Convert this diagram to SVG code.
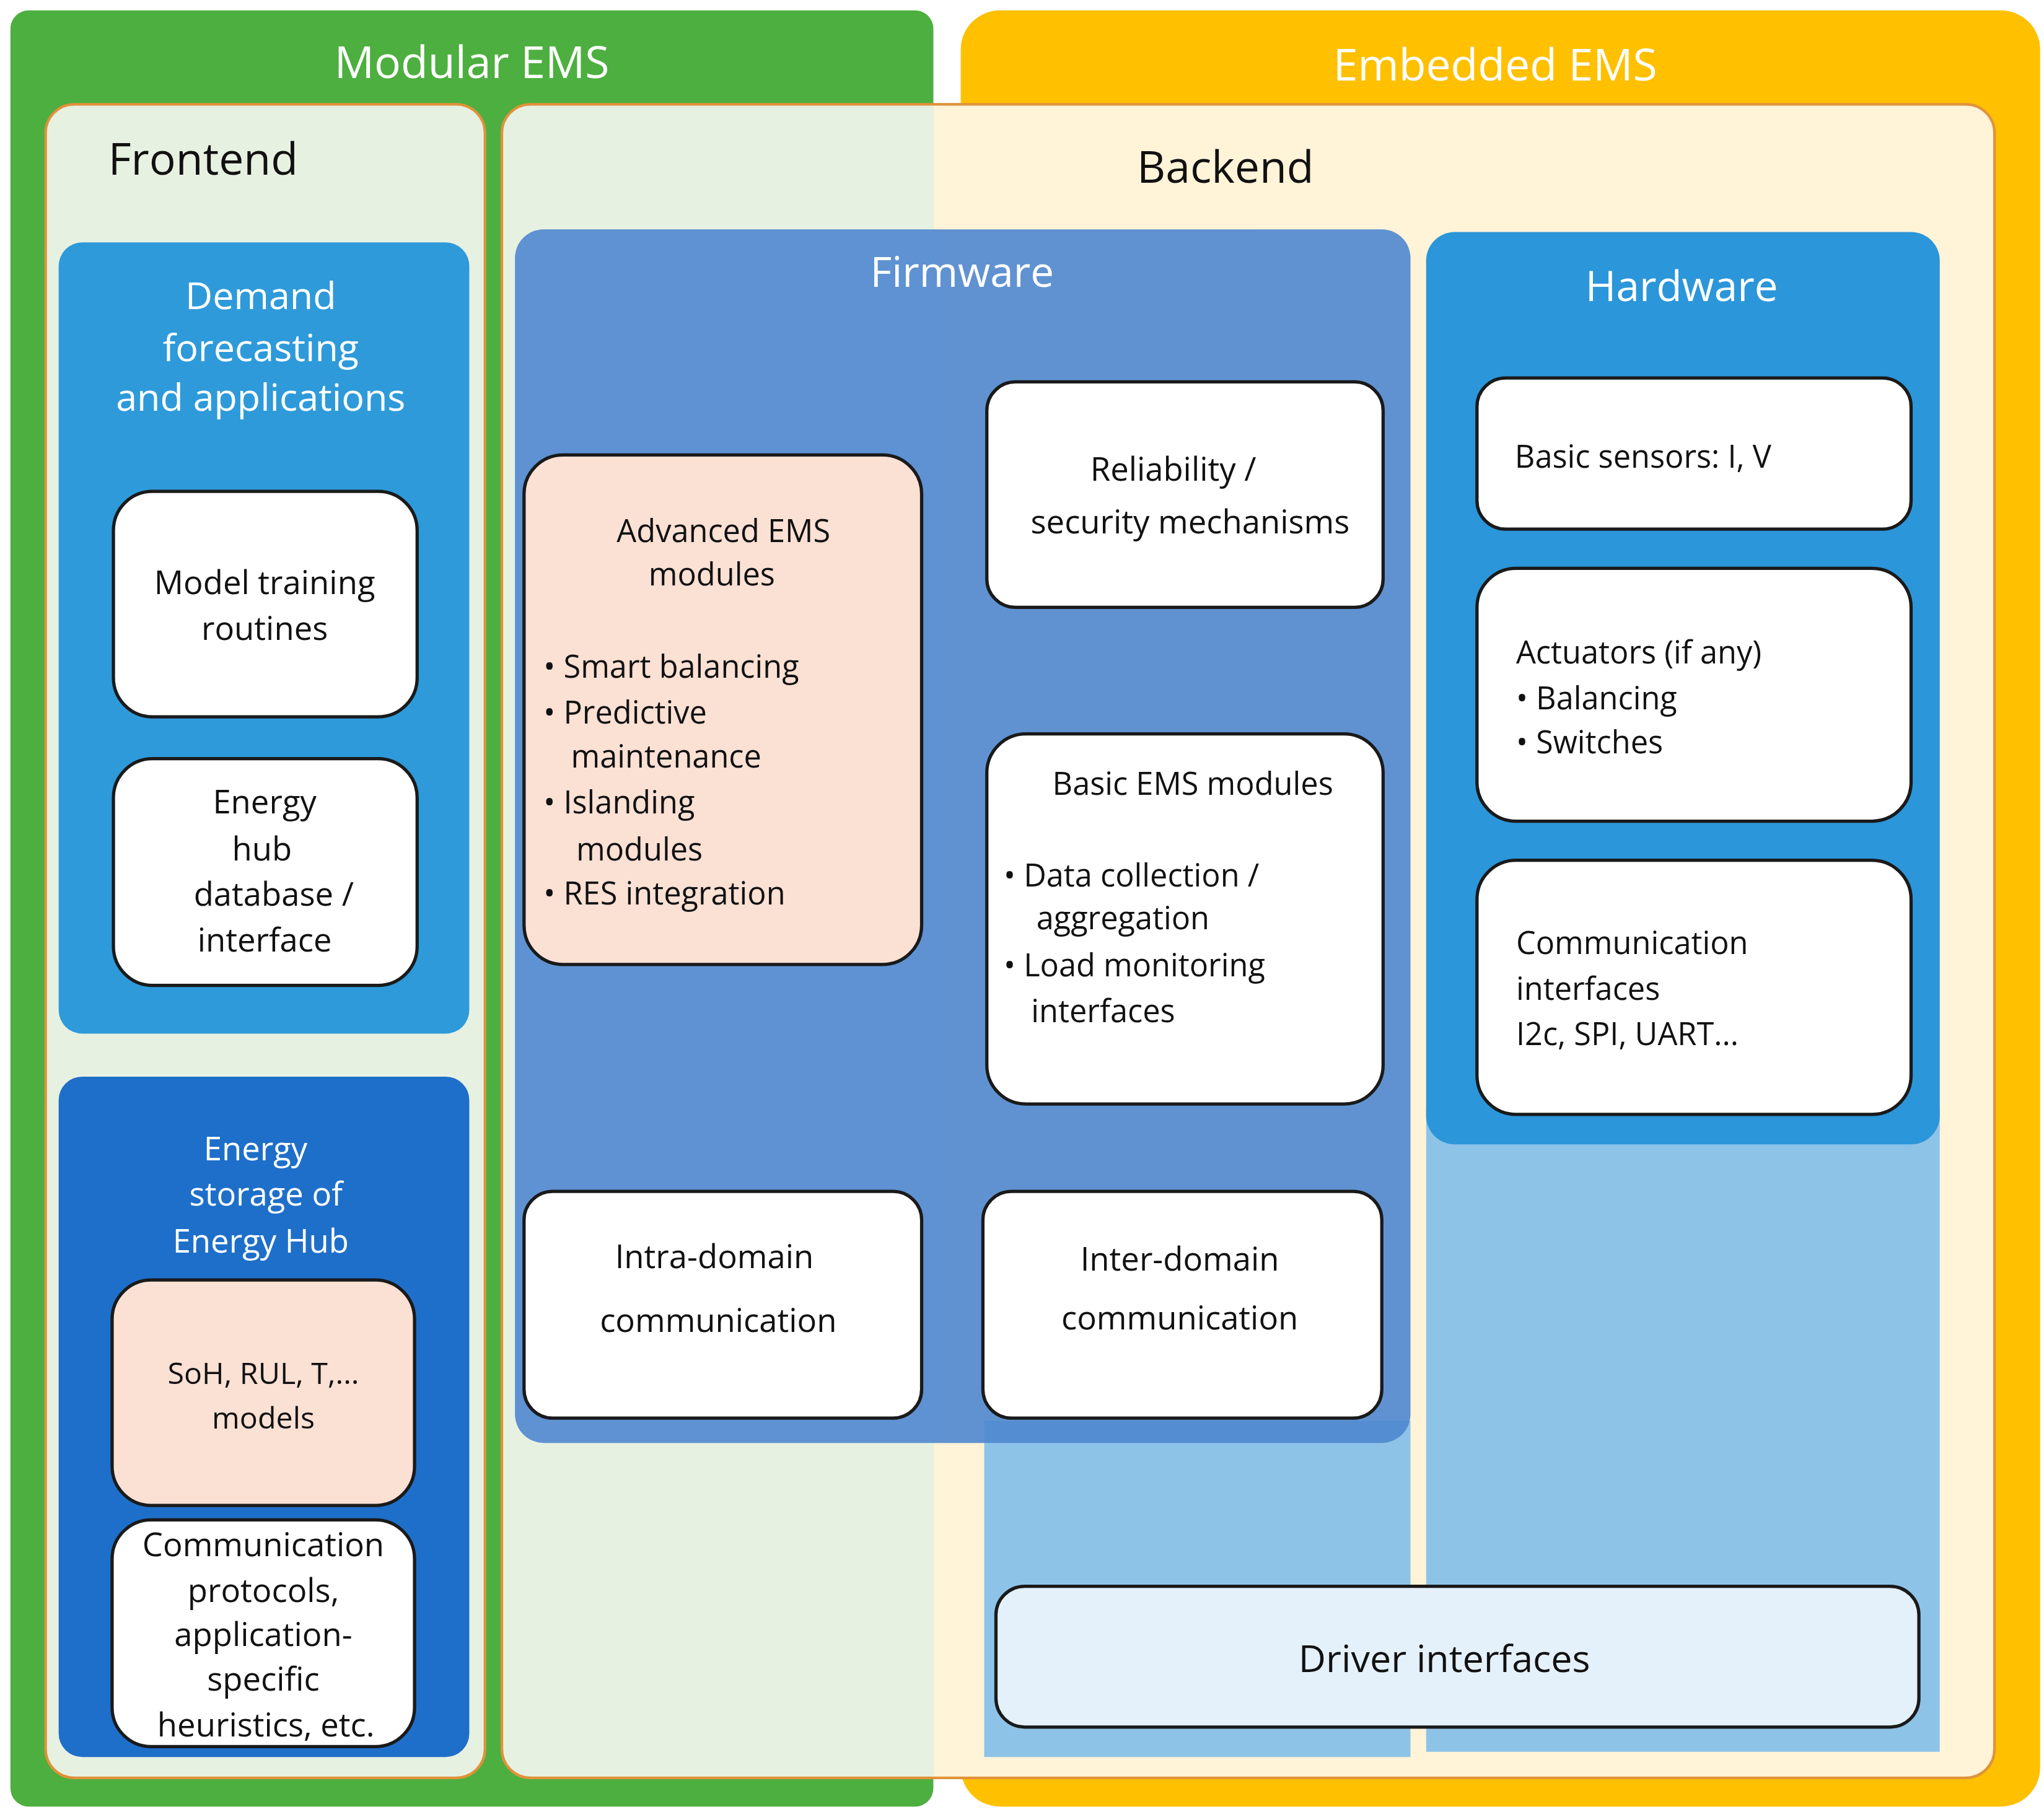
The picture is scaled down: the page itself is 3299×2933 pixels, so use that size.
<svg xmlns="http://www.w3.org/2000/svg" width="3299" height="2933" viewBox="0 0 3299 2933">
<style>
text{font-family:"Open Sans","Liberation Sans",sans-serif;}
.t{font-size:25px;fill:#111;text-anchor:middle}
.l{font-size:25px;fill:#111}
.w{fill:#fff;text-anchor:middle}
.box{fill:#fff;stroke:#1a1a1a;stroke-width:2.5}
.peach{fill:#FBE0D4;stroke:#1a1a1a;stroke-width:2.5}
</style>
<rect width="3299" height="2933" fill="#fff"/>
<g transform="scale(2.104)">
<g id="modular-ems"><rect x="8" y="8" width="708" height="1378" rx="14" fill="#4DAF3F"/>
<text x="362" y="60" class="w" style="font-size:34px">Modular  EMS</text></g>
<g id="embedded-ems"><rect x="737" y="8" width="828" height="1378" rx="30" fill="#FFC000"/>
<text x="1147" y="62" class="w" style="font-size:34px">Embedded  EMS</text></g>
<g id="frontend"><rect x="35" y="80" width="337" height="1284" rx="22" fill="#E7F1E1" stroke="#E0923A" stroke-width="2"/>
<text x="83" y="134" class="l" style="font-size:34px">Frontend</text></g>
<g id="backend"><path d="M407 80 H716 V1364 H407 A22 22 0 0 1 385 1342 V102 A22 22 0 0 1 407 80Z" fill="#E7F1E1"/>
<path d="M716 80 H1508 A22 22 0 0 1 1530 102 V1342 A22 22 0 0 1 1508 1364 H716Z" fill="#FFF3D8"/>
<rect x="385" y="80" width="1145" height="1284" rx="22" fill="none" stroke="#E0923A" stroke-width="2"/>
<text x="940" y="140" class="t" style="font-size:34px">Backend</text></g>
<g id="light-areas"><rect x="755" y="1090" width="327" height="258" fill="#8EC3E8"/>
<rect x="1094" y="850" width="394" height="494" fill="#8EC3E8"/></g>
<g id="demand"><rect x="45" y="186" width="315" height="607" rx="18" fill="#2E9ADA"/>
<text class="w" style="font-size:29px"><tspan x="200" y="237">Demand</tspan><tspan x="200" y="277">forecasting</tspan><tspan x="200" y="315">and applications</tspan></text></g>
<g id="model-training"><rect x="87" y="377" width="233" height="173" rx="30" class="box"/>
<text class="t"><tspan x="203" y="456">Model training</tspan><tspan x="203" y="491">routines</tspan></text></g>
<g id="energy-hub"><rect x="87" y="582" width="233" height="174" rx="30" class="box"/>
<text class="t"><tspan x="203" y="624">Energy</tspan><tspan x="201" y="660">hub</tspan><tspan x="210" y="695">database /</tspan><tspan x="203" y="730">interface</tspan></text></g>
<g id="energy-storage"><rect x="45" y="826" width="315" height="522" rx="18" fill="#1E6FC9"/>
<text class="w" style="font-size:25px"><tspan x="196" y="890">Energy</tspan><tspan x="204" y="925">storage of</tspan><tspan x="200" y="961">Energy Hub</tspan></text></g>
<g id="soh"><rect x="86" y="982" width="232" height="173" rx="30" class="peach"/>
<text class="t" style="font-size:23px"><tspan x="202" y="1062">SoH, RUL, T,...</tspan><tspan x="202" y="1096">models</tspan></text></g>
<g id="comm-protocols"><rect x="86" y="1166" width="232" height="174" rx="30" class="box"/>
<text class="t"><tspan x="202" y="1194">Communication</tspan><tspan x="202" y="1229">protocols,</tspan><tspan x="202" y="1263">application-</tspan><tspan x="202" y="1297">specific</tspan><tspan x="204" y="1332">heuristics, etc.</tspan></text></g>
<g id="firmware"><rect x="395" y="176" width="687" height="931" rx="22" fill="#4F87D0" fill-opacity="0.9"/>
<text x="738" y="220" class="w" style="font-size:32px">Firmware</text></g>
<g id="hardware"><rect x="1094" y="178" width="394" height="700" rx="22" fill="#2B96D9"/>
<text x="1290" y="231" class="w" style="font-size:32px">Hardware</text></g>
<g id="advanced-ems"><rect x="402" y="349" width="305" height="391" rx="30" class="peach"/>
<text class="t" style="font-size:24px"><tspan x="555" y="416">Advanced EMS</tspan><tspan x="546" y="449">modules</tspan></text>
<text class="l" style="font-size:24px"><tspan x="417" y="520">• Smart balancing</tspan><tspan x="417" y="555">• Predictive</tspan><tspan x="438" y="589">maintenance</tspan><tspan x="417" y="624">•  Islanding</tspan><tspan x="442" y="660">modules</tspan><tspan x="417" y="694">•  RES integration</tspan></text></g>
<g id="reliability"><rect x="757" y="293" width="304" height="173" rx="22" class="box"/>
<text class="t"><tspan x="900" y="369">Reliability  /</tspan><tspan x="913" y="409">security mechanisms</tspan></text></g>
<g id="basic-ems"><rect x="757" y="563" width="304" height="284" rx="30" class="box"/>
<text class="t" style="font-size:24px"><tspan x="915" y="610">Basic EMS modules</tspan></text>
<text class="l" style="font-size:24px"><tspan x="770" y="680">• Data collection  /</tspan><tspan x="795" y="713">aggregation</tspan><tspan x="770" y="749">•   Load  monitoring</tspan><tspan x="791" y="784">interfaces</tspan></text></g>
<g id="intra-domain"><rect x="402" y="914" width="305" height="174" rx="22" class="box"/>
<text class="t"><tspan x="548" y="973">Intra-domain</tspan><tspan x="551" y="1022">communication</tspan></text></g>
<g id="inter-domain"><rect x="754" y="914" width="306" height="174" rx="22" class="box"/>
<text class="t"><tspan x="905" y="975">Inter-domain</tspan><tspan x="905" y="1020">communication</tspan></text></g>
<g id="basic-sensors"><rect x="1133" y="290" width="333" height="116" rx="22" class="box"/>
<text x="1162" y="359" class="l" style="font-size:24px">Basic sensors:  I, V</text></g>
<g id="actuators"><rect x="1133" y="436" width="333" height="194" rx="30" class="box"/>
<text class="l" style="font-size:24px"><tspan x="1163" y="509">Actuators (if any)</tspan><tspan x="1163" y="544">•     Balancing</tspan><tspan x="1163" y="578">•     Switches</tspan></text></g>
<g id="comm-interfaces"><rect x="1133" y="660" width="333" height="195" rx="30" class="box"/>
<text class="l" style="font-size:24px"><tspan x="1163" y="732">Communication</tspan><tspan x="1163" y="767">interfaces</tspan><tspan x="1163" y="802">I2c, SPI, UART...</tspan></text></g>
<g id="driver-interfaces"><rect x="764" y="1217" width="708" height="108" rx="22" fill="#E4F0FA" stroke="#1a1a1a" stroke-width="2.5"/>
<text x="1108" y="1283" class="t" style="font-size:29px">Driver interfaces</text></g>
<g id="connectors"/>
</g>
</svg>
